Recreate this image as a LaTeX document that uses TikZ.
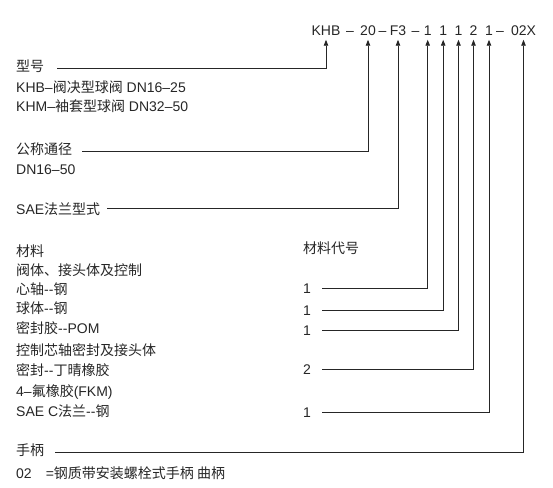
\documentclass[tikz,border=0pt]{standalone}
\usepackage{fontspec}
\setmainfont{Liberation Sans}
\newfontfamily\cjk{Noto Sans CJK SC}
\usetikzlibrary{arrows.meta}
\begin{document}
\begin{tikzpicture}[x=1pt,y=1pt,
  txt/.style={inner sep=0pt, text height=12pt, text depth=1.5pt, font=\fontsize{14}{16}\selectfont, text=black!85},
  lbl/.style={txt, anchor=west},
  code/.style={txt, outer sep=3pt},
  lead/.style={draw=black!85, line width=0.9pt},
  arr/.style={lead, -{Triangle[length=6pt,width=4.5pt]}}]
\useasboundingbox (0,0) rectangle (553,-487);

% top code
\node[code] (kh) at (326,-30) {KHB};
\node[code] (d1) at (350,-30) {--};
\node[code] (dn) at (368,-30) {20};
\node[code] (d2) at (382.5,-30) {--};
\node[code] (f3) at (398,-30) {F3};
\node[code] (d3) at (415.5,-30) {--};
\node[code] (a1) at (427.7,-30) {1};
\node[code] (a2) at (443.2,-30) {1};
\node[code] (a3) at (458.5,-30) {1};
\node[code] (a4) at (473.5,-30) {2};
\node[code] (a5) at (489,-30) {1};
\node[code] (d4) at (500,-30) {--};
\node[code] (hx) at (523.5,-30) {02X};

% left labels
\node[lbl] (xh)  at (16,-66.5) {\cjk 型号};
\node[lbl] (xh1) at (16,-87) {KHB--{\cjk 阀决型球阀} DN16--25};
\node[lbl] (xh2) at (16,-106) {KHM--{\cjk 袖套型球阀} DN32--50};
\node[lbl] (gc)  at (16,-149) {\cjk 公称通径};
\node[lbl] (gc1) at (16,-169) {DN16--50};
\node[lbl] (sae) at (16,-209.5) {SAE{\cjk 法兰型式}};
\node[lbl] (cl)  at (16,-251) {\cjk 材料};
\node[lbl] (cl1) at (16,-270) {\cjk 阀体、接头体及控制};
\node[lbl] (cl2) at (16,-289) {{\cjk 心轴}-{}-{\cjk 钢}};
\node[lbl] (cl3) at (16,-308.5) {{\cjk 球体}-{}-{\cjk 钢}};
\node[lbl] (cl4) at (16,-328.5) {{\cjk 密封胶}-{}-POM};
\node[lbl] (cl5) at (16,-350) {\cjk 控制芯轴密封及接头体};
\node[lbl] (cl6) at (16,-370) {{\cjk 密封}-{}-{\cjk 丁晴橡胶}};
\node[lbl] (cl7) at (16,-391) {4--{\cjk 氟橡胶}(FKM)};
\node[lbl] (cl8) at (16,-411) {SAE C{\cjk 法兰}-{}-{\cjk 钢}};
\node[lbl] (sb)  at (16,-450) {\cjk 手柄};
\node[lbl] (sb1) at (16,-473) {02\hspace{14pt}={\cjk 钢质带安装螺栓式手柄 曲柄}};

% material codes
\node[lbl] (cd) at (303,-248) {\cjk 材料代号};
\node[txt] (n1) at (307,-288) {1};
\node[txt] (n2) at (307,-310) {1};
\node[txt] (n3) at (307,-330) {1};
\node[txt] (n4) at (307,-369) {2};
\node[txt] (n5) at (307,-412.5) {1};

% line starts
\coordinate (xh-s) at (57,-68.3);
\coordinate (gc-s) at (82,-151);
\coordinate (sae-s) at (107,-208.5);
\coordinate (sb-s) at (55,-452.3);

% connectors
\draw[arr] (xh-s) -| (kh.south);
\draw[arr] (gc-s) -| (dn.south);
\draw[arr] (sae-s) -| (f3.south);
\draw[arr] ([xshift=11pt]n1.east) -| (a1.south);
\draw[arr] ([xshift=11pt]n2.east) -| (a2.south);
\draw[arr] ([xshift=11pt]n3.east) -| (a3.south);
\draw[arr] ([xshift=11pt]n4.east) -| (a4.south);
\draw[arr] ([xshift=11pt]n5.east) -| (a5.south);
\draw[arr] (sb-s) -| (hx.south);
\end{tikzpicture}
\end{document}
